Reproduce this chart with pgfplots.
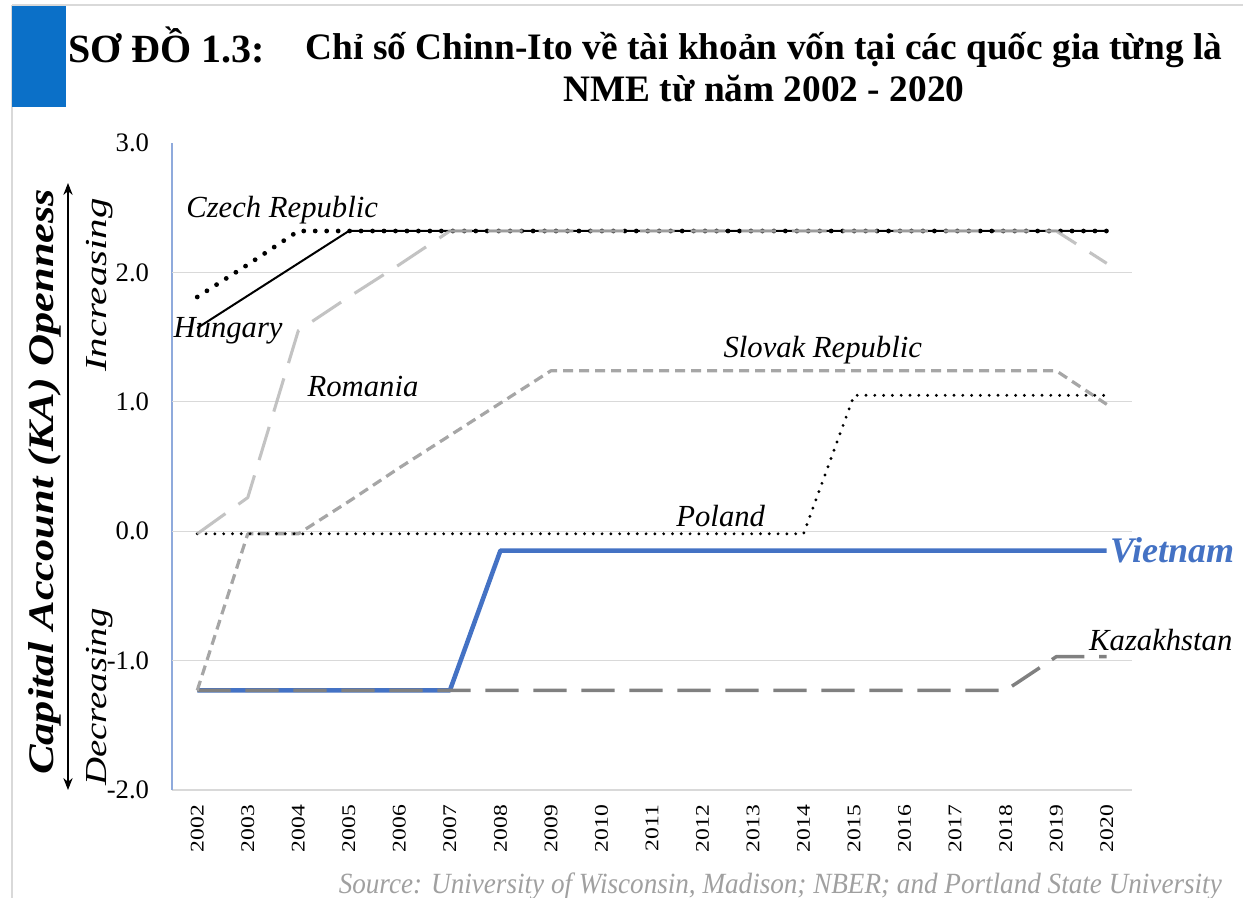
\documentclass[border=0pt]{standalone}
\usepackage{pgfplots}
\pgfplotsset{compat=1.18}
\usepackage{fontspec}
\setmainfont{Liberation Serif}
\usepackage{graphicx}
\usetikzlibrary{arrows.meta}
\definecolor{vnblue}{HTML}{4472C4}
\definecolor{boxblue}{HTML}{0B70C8}
\definecolor{axblue}{HTML}{8FAADC}
\definecolor{gridc}{HTML}{D9D9D9}
\definecolor{romgray}{HTML}{B8B8B8}
\definecolor{slogray}{HTML}{A6A6A6}
\definecolor{kazgray}{HTML}{808080}
\definecolor{srcgray}{HTML}{A0A0A0}
\begin{document}
\begin{tikzpicture}
\path[use as bounding box] (0,0) rectangle (932.25pt,-673.5pt);
\begin{scope}[x=0.75pt,y=-0.75pt]
\draw[gridc, line width=1pt] (12,5) -- (1243,5);
\draw[gridc, line width=1pt] (12,5) -- (12,898);
\fill[boxblue] (12,6) rectangle (66,107);
\node[anchor=west, font=\fontsize{30pt}{30pt}\selectfont\bfseries, inner sep=0] at (68,45) {SƠ ĐỒ 1.3:};
\node[align=center, font=\fontsize{28pt}{31pt}\selectfont\bfseries, inner sep=0] at (764,67) {Chỉ số Chinn-Ito về tài khoản vốn tại các quốc gia từng là\\NME từ năm 2002 - 2020};
\draw[{Stealth[length=9pt,width=7pt]}-{Stealth[length=9pt,width=7pt]}, line width=0.8pt] (68,183) -- (68,790);
\node[rotate=90, font=\fontsize{30pt}{30pt}\selectfont\bfseries\itshape, inner sep=0] at (45,482) {\scalebox{1.11}[0.9]{Capital Account (KA) Openness}};
\node[rotate=90, font=\fontsize{26pt}{26pt}\selectfont\itshape, inner sep=0] at (100,285) {\scalebox{1.18}[0.88]{Increasing}};
\node[rotate=90, font=\fontsize{26pt}{26pt}\selectfont\itshape, inner sep=0] at (100,697) {\scalebox{1.12}[0.88]{Decreasing}};
\node[anchor=east, text=srcgray, font=\fontsize{22pt}{22pt}\selectfont\itshape, inner sep=0] at (1222,886) {\scalebox{0.925}[1]{Source: University of Wisconsin, Madison; NBER; and Portland State University}};
\end{scope}
\begin{axis}[
  at={(129pt,-592.5pt)}, anchor=south west,
  scale only axis, width=720pt, height=485.25pt,
  xmin=2001.5, xmax=2020.5, ymin=-2, ymax=3,
  clip=false,
  axis x line*=bottom, axis y line*=left,
  x axis line style={gridc, line width=1.2pt, -},
  y axis line style={axblue, line width=1.5pt, -},
  major tick length=0pt,
  xtick={2002,2003,2004,2005,2006,2007,2008,2009,2010,2011,2012,2013,2014,2015,2016,2017,2018,2019,2020},
  xticklabel={\scalebox{1.22}[1]{\pgfmathprintnumber[set thousands separator={},assume math mode=true]{\tick}}},
  ytick={-2,-1,0,1,2,3},
  yticklabels={-2.0,-1.0,0.0,1.0,2.0,3.0},
  extra y ticks={-1,0,1,2}, extra y tick labels={},
  extra y tick style={grid=major, major grid style={gridc, line width=1pt}},
  xticklabel style={rotate=90, anchor=east, font=\fontsize{14.5pt}{15pt}\selectfont, inner sep=0pt, xshift=-11pt},
  yticklabel style={font=\fontsize{20pt}{20pt}\selectfont, inner sep=0pt, xshift=-17pt},
  every axis plot/.append style={line join=round},
]
% Vietnam
\addplot[vnblue, line width=3.4pt] coordinates {(2002,-1.23)(2003,-1.23)(2004,-1.23)(2005,-1.23)(2006,-1.23)(2007,-1.23)(2008,-0.15)(2009,-0.15)(2010,-0.15)(2011,-0.15)(2012,-0.15)(2013,-0.15)(2014,-0.15)(2015,-0.15)(2016,-0.15)(2017,-0.15)(2018,-0.15)(2019,-0.15)(2020,-0.15)};
% Kazakhstan
\addplot[kazgray, line width=2.6pt, dash pattern=on 25pt off 11pt] coordinates {(2002,-1.23)(2003,-1.23)(2004,-1.23)(2005,-1.23)(2006,-1.23)(2007,-1.23)(2008,-1.23)(2009,-1.23)(2010,-1.23)(2011,-1.23)(2012,-1.23)(2013,-1.23)(2014,-1.23)(2015,-1.23)(2016,-1.23)(2017,-1.23)(2018,-1.23)(2019,-0.97)(2020,-0.97)};
% Slovak Republic
\addplot[slogray, line width=2.4pt, dash pattern=on 7.5pt off 4.5pt] coordinates {(2002,-1.23)(2003,-0.02)(2004,-0.02)(2005,0.23)(2006,0.49)(2007,0.74)(2008,0.99)(2009,1.24)(2010,1.24)(2011,1.24)(2012,1.24)(2013,1.24)(2014,1.24)(2015,1.24)(2016,1.24)(2017,1.24)(2018,1.24)(2019,1.24)(2020,0.98)};
% Poland
\addplot[black, line width=2.4pt, line cap=round, dash pattern=on 0pt off 6.6pt] coordinates {(2002,-0.02)(2003,-0.02)(2004,-0.02)(2005,-0.02)(2006,-0.02)(2007,-0.02)(2008,-0.02)(2009,-0.02)(2010,-0.02)(2011,-0.02)(2012,-0.02)(2013,-0.02)(2014,-0.02)(2015,1.05)(2016,1.05)(2017,1.05)(2018,1.05)(2019,1.05)(2020,1.05)};
% Hungary
\addplot[black, line width=1.5pt] coordinates {(2002,1.57)(2003,1.82)(2004,2.07)(2005,2.32)(2006,2.32)(2007,2.32)(2008,2.32)(2009,2.32)(2010,2.32)(2011,2.32)(2012,2.32)(2013,2.32)(2014,2.32)(2015,2.32)(2016,2.32)(2017,2.32)(2018,2.32)(2019,2.32)(2020,2.32)};
% Czech Republic
\addplot[black, line width=3.6pt, line cap=round, dash pattern=on 0pt off 8.6pt] coordinates {(2002,1.81)(2003,2.06)(2004,2.32)(2005,2.32)(2006,2.32)(2007,2.32)(2008,2.32)(2009,2.32)(2010,2.32)(2011,2.32)(2012,2.32)(2013,2.32)(2014,2.32)(2015,2.32)(2016,2.32)(2017,2.32)(2018,2.32)(2019,2.32)(2020,2.32)};
% Romania
\addplot[romgray, opacity=0.85, line width=2.3pt, dash pattern=on 26pt off 12pt] coordinates {(2002,-0.02)(2003,0.26)(2004,1.55)(2005,1.81)(2006,2.06)(2007,2.32)(2008,2.32)(2009,2.32)(2010,2.32)(2011,2.32)(2012,2.32)(2013,2.32)(2014,2.32)(2015,2.32)(2016,2.32)(2017,2.32)(2018,2.32)(2019,2.32)(2020,2.07)};
% labels
\node[font=\fontsize{23pt}{23pt}\selectfont\itshape, inner sep=0] at (axis cs:2003.68,2.48) {Czech Republic};
\node[font=\fontsize{23pt}{23pt}\selectfont\itshape, inner sep=0] at (axis cs:2002.61,1.55) {Hungary};
\node[font=\fontsize{23pt}{23pt}\selectfont\itshape, inner sep=0] at (axis cs:2005.28,1.12) {Romania};
\node[font=\fontsize{23pt}{23pt}\selectfont\itshape, inner sep=0] at (axis cs:2014.38,1.40) {Slovak Republic};
\node[font=\fontsize{23pt}{23pt}\selectfont\itshape, inner sep=0] at (axis cs:2012.36,0.12) {Poland};
\node[anchor=west, text=vnblue, font=\fontsize{27pt}{27pt}\selectfont\bfseries\itshape, inner sep=0] at (axis cs:2020.06,-0.15) {Vietnam};
\node[font=\fontsize{23pt}{23pt}\selectfont\itshape, inner sep=0] at (axis cs:2021.07,-0.84) {Kazakhstan};
\end{axis}
\end{tikzpicture}
\end{document}
